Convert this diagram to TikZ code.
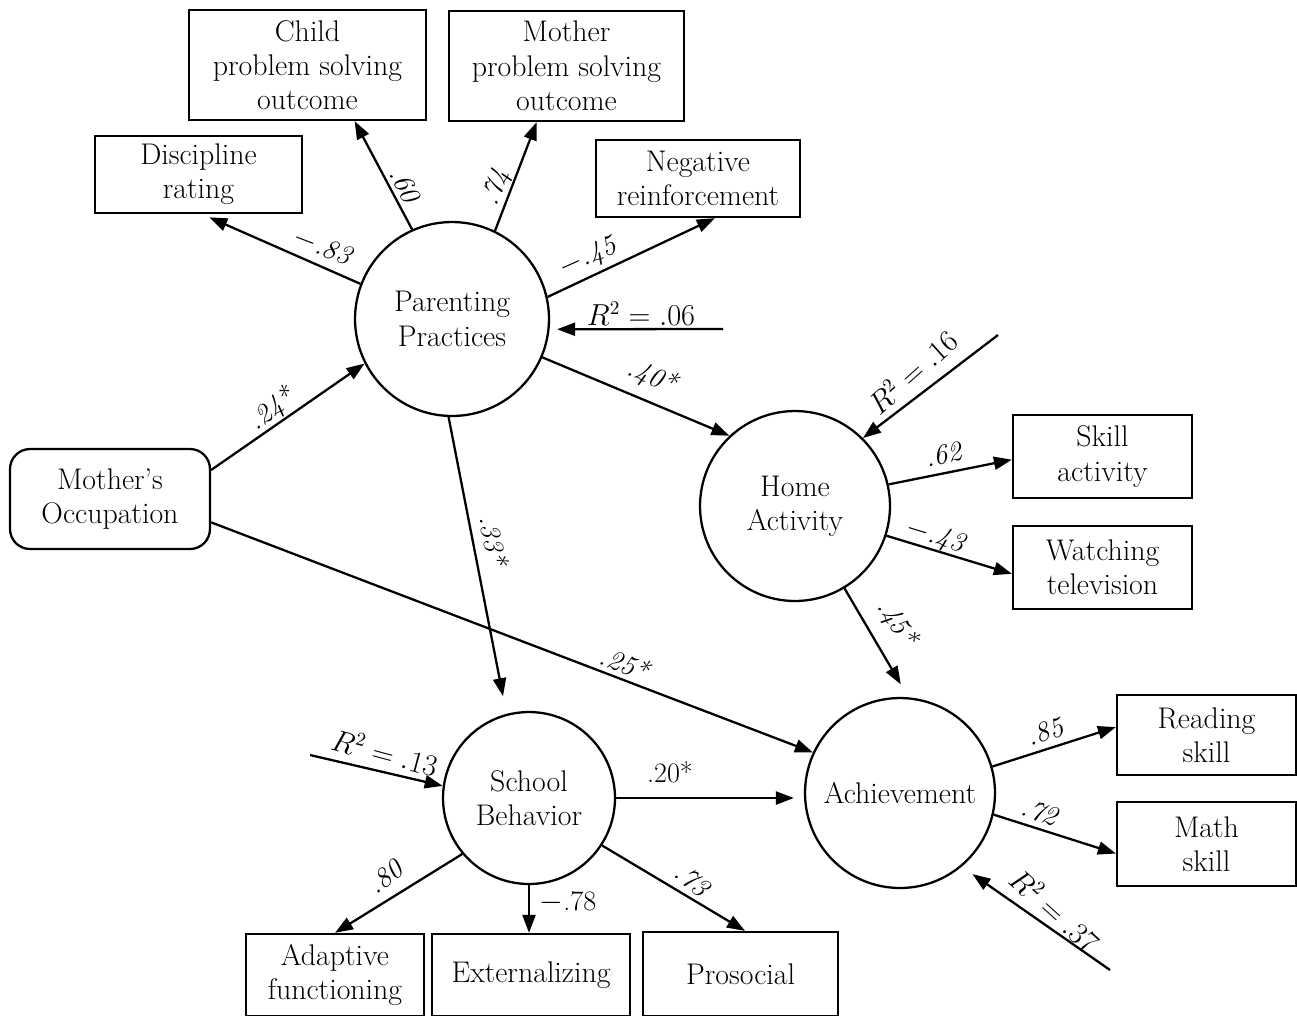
\documentclass[tikz,border=0pt]{standalone}
\usepackage{amsmath}
\usepackage{tikz}
\usetikzlibrary{arrows.meta}

\begin{document}
\begin{tikzpicture}[x=0.02cm, y=-0.02cm,
  lat/.style={circle, draw, line width=1.3pt, inner sep=0pt, align=center,
              font=\fontsize{17}{19.5}\selectfont},
  obs/.style={rectangle, draw, line width=1.3pt, inner sep=0pt, align=center,
              font=\fontsize{17}{19.5}\selectfont},
  arr/.style={-{Triangle[length=3.6mm,width=2.6mm]}, line width=1.3pt},
  coef/.style={font=\fontsize{16}{18}\selectfont\itshape, inner sep=1pt}
]
\useasboundingbox (0,0) rectangle (1297,1015);
% ── Latent variables ───────────────────
\node[lat, minimum size=3.88cm] (parent) at (452,319) {Parenting\\Practices};
\node[lat, minimum size=3.8cm] (home) at (795,506) {Home\\Activity};
\node[lat, minimum size=3.44cm] (school) at (529,798) {School\\Behavior};
\node[lat, minimum size=3.8cm] (achieve) at (900,793) {Achievement};
\node[obs, rounded corners=0.4cm, minimum width=4cm, minimum height=2cm]
  (mocc) at (110,499) {Mother's\\Occupation};
% ── Indicators ─────────────────────────
\node[obs, minimum width=4.14cm, minimum height=1.54cm] (disc) at (198.5,174.5) {Discipline\\rating};
\node[obs, minimum width=4.74cm, minimum height=2.2cm] (child) at (307.5,65) {Child\\problem solving\\outcome};
\node[obs, minimum width=4.7cm, minimum height=2.2cm] (mother) at (566.5,66) {Mother\\problem solving\\outcome};
\node[obs, minimum width=4.08cm, minimum height=1.54cm] (negrf) at (698,178.5) {Negative\\reinforcement};
\node[obs, minimum width=3.58cm, minimum height=1.66cm] (skill) at (1102.5,456.5) {Skill\\activity};
\node[obs, minimum width=3.58cm, minimum height=1.66cm] (tv) at (1102.5,567.5) {Watching\\television};
\node[obs, minimum width=3.58cm, minimum height=1.6cm] (read) at (1206.5,735) {Reading\\skill};
\node[obs, minimum width=3.58cm, minimum height=1.68cm] (math) at (1206.5,844) {Math\\skill};
\node[obs, minimum width=3.56cm, minimum height=1.64cm] (adapt) at (335,975) {Adaptive\\functioning};
\node[obs, minimum width=3.96cm, minimum height=1.64cm] (ext) at (531,975) {Externalizing};
\node[obs, minimum width=3.9cm, minimum height=1.68cm] (prosoc) at (740.5,974) {Prosocial};
% ── Residual ends ──────────────────────
\coordinate (e06) at (723,329);
\coordinate (e16) at (998,335);
\coordinate (e13) at (310,755);
\coordinate (e37) at (1110,970);
% ── Paths ──────────────────────────────
\draw[arr, shorten >=0.16cm] (parent.159) -- (disc.-85);
\draw[arr] (parent.114) -- (child.-50.4);
\draw[arr] (parent.64) -- (mother.242);
\draw[arr] (parent.13.5) -- (negrf.-67);
\draw[arr, shorten >=0.15cm] (e06) -- (parent.-6);
\draw[arr] (parent.-23) -- (home.133);
\draw[arr] (mocc.16.7) -- (parent.207);
\draw[arr, shorten >=0.36cm] (parent.-92) -- (school.105);
\draw[arr] (home.13) -- (skill.182);
\draw[arr] (home.-18) -- (tv.184);
\draw[arr] (e16) -- (home.45);
\draw[arr, shorten >=0.3cm] (home.-59) -- (achieve.85);
\draw[arr] (mocc.-13) -- (achieve.155);
\draw[arr, shorten >=0.2cm] (school.east) -- (school.east -| achieve.west);
\draw[arr] (e13) -- (school.172);
\draw[arr] (school.220) -- (adapt.north);
\draw[arr] (school.south) -- (school.south |- ext.north);
\draw[arr] (school.-33) -- (prosoc.84);
\draw[arr] (achieve.16) -- (read.175.6);
\draw[arr] (achieve.-13) -- (math.186);
\draw[arr, shorten >=0.26cm] (e37) -- (achieve.-50);
% ── Coefficients ───────────────────────
\node[coef, rotate=-21] (c83) at (322,247) {$-$.83};
\node[coef, rotate=-62] (c60) at (405,185) {.60};
\node[coef, rotate=69] (c74) at (497,188) {.74};
\node[coef, rotate=24] (c45) at (588,258) {$-$.45};
\node[coef] (r06) at (641,314) {$R^2 = .06$};
\node[coef, rotate=-22] (c40) at (652,377) {.40*};
\node[coef, rotate=38] (c24) at (272,410) {.24*};
\node[coef, rotate=-79] (c33) at (494,540) {.33*};
\node[coef, rotate=12] (c62) at (943,455) {.62};
\node[coef, rotate=-17] (c43) at (935,537) {$-$.43};
\node[coef, rotate=42] (r16) at (912,372) {$R^2 = .16$};
\node[coef, rotate=-57] (c45b) at (897,623) {.45*};
\node[coef, rotate=-21] (c25) at (625,663) {.25*};
\node[coef, font=\fontsize{16}{18}\selectfont] (c20) at (670,772) {.20*};
\node[coef, rotate=-15] (r13) at (385,752) {$R^2 = .13$};
\node[coef, rotate=40] (c80) at (385,877) {.80};
\node[coef, font=\fontsize{16}{18}\selectfont] (c78) at (568,902) {$-$.78};
\node[coef, rotate=-40] (c73) at (692,880) {.73};
\node[coef, rotate=20] (c85) at (1045,732) {.85};
\node[coef, rotate=-20] (c72) at (1040,812) {.72};
\node[coef, rotate=-42] (r37) at (1055,910) {$R^2 = .37$};
\end{tikzpicture}
\end{document}
